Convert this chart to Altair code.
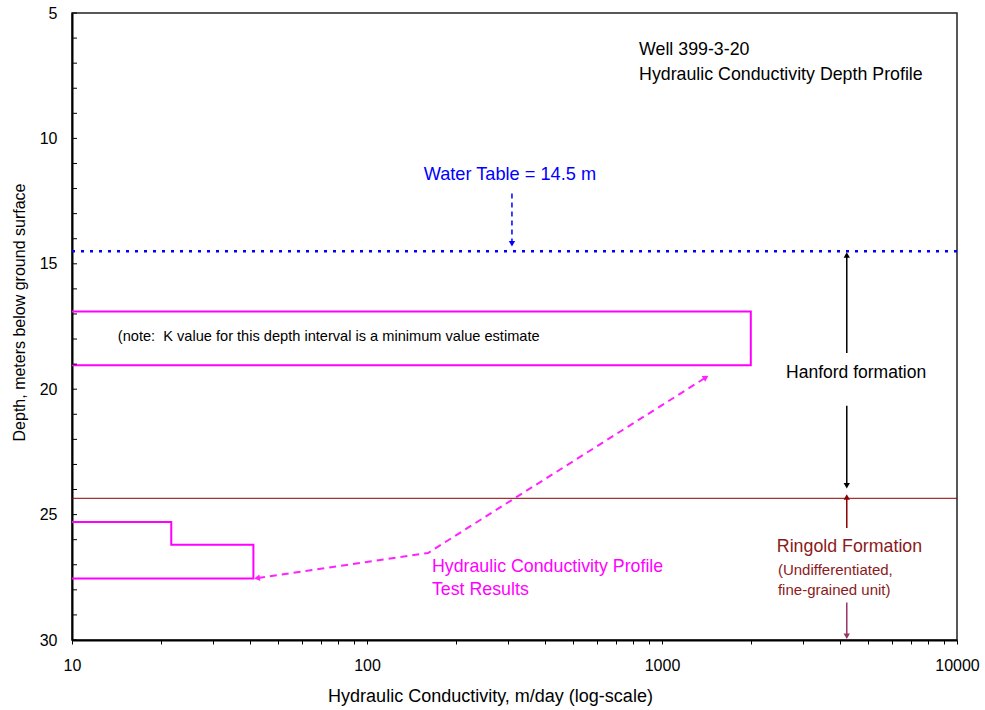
import altair as alt
import pandas as pd

FONT = "Liberation Sans"

# --- data ---
upper_k = [10, 2000, 2000, 10]
upper_d = [16.9, 16.9, 19.05, 19.05]
lower_k = [10, 21.7, 21.7, 41.2, 41.2, 10]
lower_d = [25.3, 25.3, 26.2, 26.2, 27.55, 27.55]
water_table = 14.5
ringold_top = 24.35
depth_ticks = list(range(5, 31))
k_ticks = [10, 20, 30, 40, 50, 60, 70, 80, 90,
           100, 200, 300, 400, 500, 600, 700, 800, 900,
           1000, 2000, 3000, 4000, 5000, 6000, 7000, 8000, 9000, 10000]

# pink dashed pointer (polyline)
ptr_k = [42.7, 161, 1400]
ptr_d = [27.53, 26.53, 19.55]

# vertical arrows: k, from depth, to depth
wt_arrow = (310, 12.2, 14.2)
hanford_up = (4230, 18.56, 14.65)
hanford_dn = (4230, 20.66, 23.85)
ringold_up = (4230, 25.53, 24.3)
ringold_dn = (4230, 28.5, 29.85)

W, H = 885, 627

xs = alt.Scale(type="log", domain=[10, 10000])
ys = alt.Scale(domain=[5, 30], reverse=True, nice=False, zero=False)

xaxis = alt.Axis(values=k_ticks, grid=False, tickSize=4, tickColor="black",
                 domainColor="black", domainWidth=2, labelFont=FONT, labelFontSize=16,
                 labelColor="black", labelPadding=13, labelFlush=False, labelOverlap=False,
                 labelExpr="(datum.value==10||datum.value==100||datum.value==1000||datum.value==10000) ? format(datum.value,'d') : ''",
                 title="Hydraulic Conductivity, m/day (log-scale)", titleFont=FONT,
                 titleFontSize=18, titleFontWeight="normal", titleColor="black",
                 titleX=418, titleY=56, titleBaseline="middle")
yaxis = alt.Axis(values=[5, 10, 15, 20, 25, 30], grid=False, tickSize=0,
                 domainColor="black", domainWidth=2, labelFont=FONT, labelFontSize=16,
                 labelColor="black", labelPadding=15, labelFlush=False, labelOverlap=False,
                 title="Depth, meters below ground surface", titleFont=FONT,
                 titleFontSize=16, titleFontWeight="normal", titleColor="black",
                 titleX=-53, titleY=299, titleAngle=-90, titleBaseline="middle")

X = lambda: alt.X("k:Q", scale=xs, axis=xaxis)
Y = lambda: alt.Y("d:Q", scale=ys, axis=yaxis)

def poly(ks, ds, name):
    return pd.DataFrame({"k": ks, "d": ds, "o": list(range(len(ks))), "s": name})

boxes = pd.concat([poly(upper_k, upper_d, "u"), poly(lower_k, lower_d, "l")])
box_layer = alt.Chart(boxes).mark_line(color="#FF00FF", strokeWidth=2).encode(
    x=X(), y=Y(), detail="s:N", order="o:Q")

hlines = pd.DataFrame({"k": [10, 10], "k2": [10000, 10000], "d": [water_table, ringold_top],
                       "s": ["wt", "rg"]})
wt_layer = alt.Chart(hlines[hlines.s == "wt"]).mark_rule(
    color="#0000FF", strokeWidth=2.5, strokeDash=[3, 6]).encode(x=X(), x2="k2:Q", y=Y())
rg_layer = alt.Chart(hlines[hlines.s == "rg"]).mark_rule(
    color="#8B0000", strokeWidth=1).encode(x=X(), x2="k2:Q", y=Y())

ticks_layer = alt.Chart(pd.DataFrame({"d": depth_ticks})).mark_rule(
    color="black", strokeWidth=1).encode(x=alt.value(0), x2=alt.value(5), y=Y())

ptr = poly(ptr_k, ptr_d, "p")
ptr_layer = alt.Chart(ptr).mark_line(color="#FF22FF", strokeWidth=2,
                                     strokeDash=[7, 5]).encode(x=X(), y=Y(), order="o:Q")
ptr_heads = pd.DataFrame({"k": [ptr_k[0], ptr_k[-1]], "d": [ptr_d[0], ptr_d[-1]],
                          "a": [262, 58]})
ptr_head_layer = alt.Chart(ptr_heads).mark_point(
    shape="triangle", filled=True, color="#FF22FF", size=45, opacity=1).encode(
    x=X(), y=Y(), angle=alt.Angle("a:Q", scale=None))

def varrow(spec, color, dash=None, width=1.5):
    k, d0, d1 = spec
    df = pd.DataFrame({"k": [k], "d": [d0], "d2": [d1]})
    kw = dict(color=color, strokeWidth=width)
    if dash:
        kw["strokeDash"] = dash
    line = alt.Chart(df).mark_rule(**kw).encode(x=X(), y=Y(), y2="d2:Q")
    shape = "triangle-down" if d1 > d0 else "triangle-up"
    head = alt.Chart(pd.DataFrame({"k": [k], "d": [d1]})).mark_point(
        shape=shape, filled=True, color=color, size=40, opacity=1).encode(x=X(), y=Y())
    return [line, head]

arrows = (varrow(wt_arrow, "#0000FF", dash=[5, 4]) + varrow(hanford_up, "black")
          + varrow(hanford_dn, "black") + varrow(ringold_up, "#8B0000")
          + varrow(ringold_dn, "#993366"))

def texts(rows, color, size, align="left"):
    df = pd.DataFrame(rows, columns=["k", "d", "t"])
    return alt.Chart(df).mark_text(font=FONT, fontSize=size, color=color, align=align,
                                   baseline="middle").encode(x=X(), y=Y(), text="t:N")

NB = "\u00a0"
text_layers = [
    texts([(836, 6.48, "Well 399-3-20"),
           (836, 7.47, "Hydraulic Conductivity Depth Profile")], "black", 17.8),
    texts([(305, 11.46, "Water Table = 14.5 m")], "#0000FF", 18.2, "center"),
    texts([(14.3, 17.92, "(note:" + NB + NB + "K value for this depth interval is a minimum value estimate")],
          "black", 14.6),
    texts([(4550, 19.35, "Hanford formation")], "black", 17.5, "center"),
    texts([(4320, 26.29, "Ringold Formation")], "#8B1A1A", 17.8, "center"),
    texts([(2472, 27.21, "(Undifferentiated,"),
           (2472, 28.0, "fine-grained unit)")], "#8B1A1A", 15),
    texts([(166, 27.09, "Hydraulic Conductivity Profile"),
           (166, 28.0, "Test Results")], "#FF00FF", 17.8),
]

chart = alt.layer(box_layer, wt_layer, rg_layer, ticks_layer, ptr_layer, ptr_head_layer,
                  *arrows, *text_layers).properties(
    width=W, height=H, background="white",
    autosize=alt.AutoSizeParams(type="none"),
    padding={"left": 72, "top": 13, "right": 28, "bottom": 70},
).configure_view(stroke="#222", strokeWidth=1.5)

chart.save("out.html", embed_options={"renderer": "svg", "actions": False})
